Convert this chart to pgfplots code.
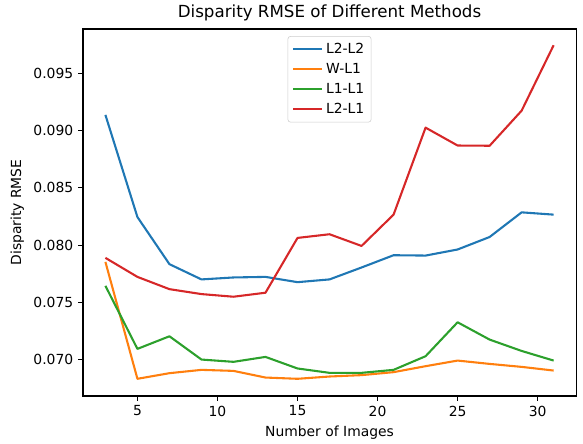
\documentclass[border=0pt]{standalone}
\usepackage{fontspec}
\setmainfont{DejaVu Sans}
\usepackage{pgfplots}
\pgfplotsset{compat=1.18}
\definecolor{c1}{HTML}{1F77B4}
\definecolor{c2}{HTML}{FF7F0E}
\definecolor{c3}{HTML}{2CA02C}
\definecolor{c4}{HTML}{D62728}
\begin{document}
\begin{tikzpicture}
\begin{axis}[
  at={(0,0)}, anchor=south west,
  scale only axis, width=355bp, height=264.2bp,
  xmin=1.6, xmax=32.4, ymin=0.06685, ymax=0.09886,
  xtick={5,10,15,20,25,30},
  ytick={0.070,0.075,0.080,0.085,0.090,0.095},
  scaled y ticks=false,
  yticklabel style={/pgf/number format/.cd, fixed, fixed zerofill, precision=3},
  /pgf/number format/assume math mode=true,
  ticklabel style={font=\fontsize{10bp}{12bp}\selectfont},
  tick align=outside, major tick length=3.5bp,
  xtick pos=left, ytick pos=left,
  axis line style={line width=0.8bp},
  every tick/.style={black, line width=0.8bp},
  title={Disparity RMSE of Different Methods},
  title style={font=\fontsize{12bp}{14bp}\selectfont, yshift=-4bp},
  xlabel={Number of Images}, ylabel={Disparity RMSE},
  label style={font=\fontsize{10bp}{12bp}\selectfont},
  legend style={at={(0.5,0.981)}, anchor=north, draw=black!20, rounded corners=2bp,
    fill=white, fill opacity=0.8, draw opacity=1, text opacity=1,
    font=\fontsize{10bp}{12bp}\selectfont, row sep=1.5bp, inner sep=3bp},
  legend cell align=left,
  legend image code/.code={\draw[#1, line width=1.5bp, opacity=1] (0bp,0bp) -- (21bp,0bp);},
  every axis plot/.append style={line width=1.5bp, line join=round},
]
\addplot[c1] coordinates {(3,0.09137) (5,0.08246) (7,0.07835) (9,0.07702) (11,0.07719) (13,0.07724) (15,0.07678) (17,0.07702) (19,0.07806) (21,0.07913) (23,0.07910) (25,0.07963) (27,0.08072) (29,0.08287) (31,0.08267)};
\addlegendentry{L2-L2}
\addplot[c2] coordinates {(3,0.07855) (5,0.06835) (7,0.06884) (9,0.06913) (11,0.06904) (13,0.06846) (15,0.06835) (17,0.06855) (19,0.06867) (21,0.06893) (23,0.06945) (25,0.06994) (27,0.06965) (29,0.06939) (31,0.06907)};
\addlegendentry{W-L1}
\addplot[c3] coordinates {(3,0.07646) (5,0.07096) (7,0.07206) (9,0.07003) (11,0.06983) (13,0.07026) (15,0.06925) (17,0.06887) (19,0.06887) (21,0.06913) (23,0.07032) (25,0.07328) (27,0.07177) (29,0.07078) (31,0.06994)};
\addlegendentry{L1-L1}
\addplot[c4] coordinates {(3,0.07890) (5,0.07724) (7,0.07617) (9,0.07574) (11,0.07551) (13,0.07586) (15,0.08064) (17,0.08096) (19,0.07994) (21,0.08267) (23,0.09026) (25,0.08870) (27,0.08868) (29,0.09174) (31,0.09745)};
\addlegendentry{L2-L1}
\end{axis}
\useasboundingbox (-59.76bp,-30.96bp) rectangle (360bp,285.12bp);
\end{tikzpicture}
\end{document}
